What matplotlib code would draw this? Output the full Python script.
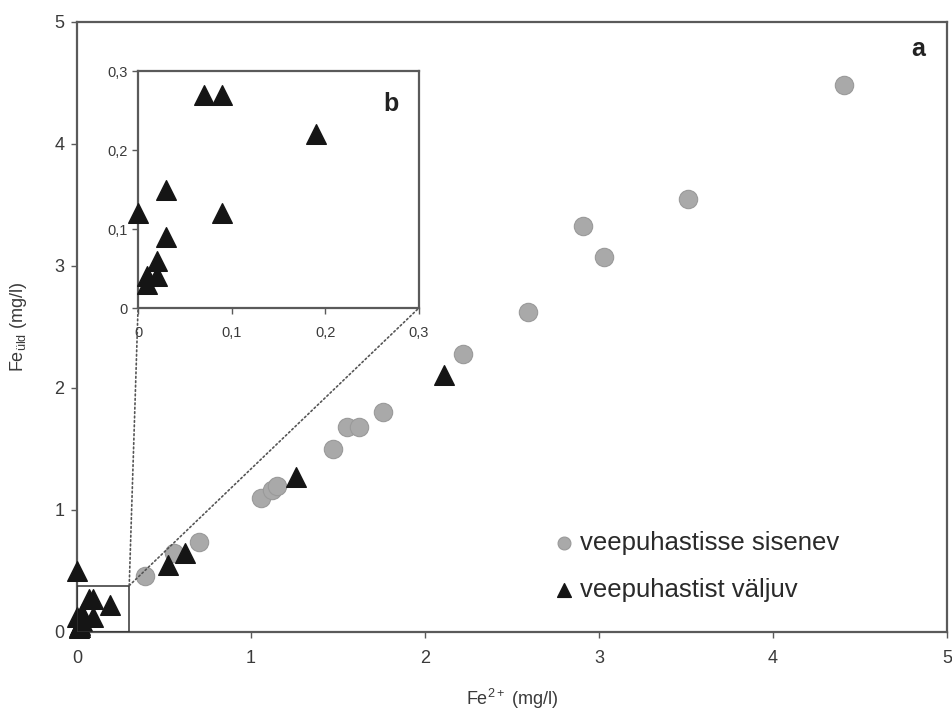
import matplotlib
matplotlib.use("Agg")
import matplotlib.pyplot as plt
from matplotlib.patches import Rectangle, ConnectionPatch

plt.rcParams["font.family"] = ["Liberation Sans", "DejaVu Sans"]
plt.rcParams["mathtext.default"] = "regular"

# inflow (gray circles)
in_fe2 = [0.39, 0.56, 0.70, 1.06, 1.12, 1.15, 1.47, 1.55, 1.62, 1.76, 2.22, 2.59, 2.91, 3.03, 3.51, 4.41]
in_fetot = [0.46, 0.65, 0.74, 1.10, 1.16, 1.20, 1.50, 1.68, 1.68, 1.80, 2.28, 2.62, 3.33, 3.07, 3.55, 4.48]

# outflow (black triangles)
out_fe2 = [0.0, 0.0, 0.01, 0.01, 0.02, 0.02, 0.03, 0.03, 0.07, 0.09, 0.09, 0.19,
           0.52, 0.62, 1.26, 2.11]
out_fetot = [0.5, 0.12, 0.03, 0.04, 0.04, 0.06, 0.09, 0.15, 0.27, 0.27, 0.12, 0.22,
             0.55, 0.65, 1.27, 2.11]

main_ticks = [0, 1, 2, 3, 4, 5]
inset_ticks = [0, 0.1, 0.2, 0.3]
inset_labels = ["0", "0,1", "0,2", "0,3"]

labels = ["veepuhastisse sisenev", "veepuhastist väljuv"]

spine_col = "#5a5a5a"
text_col = "#3a3a3a"
circ_face = "#a9a9a9"
circ_edge = "#9a9a9a"
tri_col = "#151515"

fig = plt.figure(figsize=(9.52, 7.22), dpi=100)
ax = fig.add_axes([0.0809, 0.1247, 0.914, 0.845])

ax.scatter(in_fe2, in_fetot, s=175, marker="o", facecolor=circ_face,
           edgecolor=circ_edge, linewidth=0.8, label=labels[0], zorder=3,
           clip_on=False)
ax.scatter(out_fe2, out_fetot, s=200, marker="^", color=tri_col,
           label=labels[1], zorder=4, clip_on=False)

ax.set_xlim(0, 5)
ax.set_ylim(0, 5)
ax.set_xticks(main_ticks)
ax.set_yticks(main_ticks)
ax.tick_params(direction="out", length=4, width=1, colors=spine_col,
               labelcolor=text_col, labelsize=13)
ax.tick_params(axis="x", pad=9)
ax.tick_params(axis="y", pad=5)
for sp in ax.spines.values():
    sp.set_color(spine_col)
    sp.set_linewidth(1.6)

ax.set_xlabel("Fe$^{2+}$ (mg/l)", fontsize=13, color=text_col, labelpad=14)
ax.set_ylabel("Fe$_{üld}$ (mg/l)", fontsize=13, color=text_col, labelpad=18)

ax.text(0.975, 0.955, "a", transform=ax.transAxes, fontsize=18,
        fontweight="bold", color="#222222", ha="right", va="center")

leg = ax.legend(loc="lower left", bbox_to_anchor=(0.537, 0.032), frameon=False,
                fontsize=18.5, markerscale=0.7, handlelength=0.7,
                handletextpad=0.3, labelspacing=0.9, borderaxespad=0)
for t in leg.get_texts():
    t.set_color("#2a2a2a")

# zoom rectangle in the main plot
ax.add_patch(Rectangle((0, 0), 0.3, 0.38, fill=False, edgecolor="#333333",
                       linewidth=1.1, zorder=5))

# inset
ins = fig.add_axes([0.145, 0.5734, 0.295, 0.328])
ins.scatter(out_fe2[:12], out_fetot[:12], s=200, marker="^", color=tri_col,
            zorder=4, clip_on=False)
ins.set_xlim(0, 0.3)
ins.set_ylim(0, 0.3)
ins.set_xticks(inset_ticks)
ins.set_xticklabels(inset_labels)
ins.set_yticks(inset_ticks)
ins.set_yticklabels(inset_labels)
ins.tick_params(direction="out", length=4, width=1, colors=spine_col,
                labelcolor=text_col, labelsize=10.5)
ins.tick_params(axis="x", pad=9)
for sp in ins.spines.values():
    sp.set_color(spine_col)
    sp.set_linewidth(1.6)
ins.text(0.9, 0.86, "b", transform=ins.transAxes, fontsize=18,
         fontweight="bold", color="#222222", ha="center", va="center")

for xy_ins in [(0, 0), (0.3, 0)]:
    con = ConnectionPatch(xyA=(0.3, 0.38), coordsA=ax.transData,
                          xyB=xy_ins, coordsB=ins.transData,
                          linestyle=":", color="#555555", linewidth=1.2)
    fig.add_artist(con)

fig.savefig("out.png", dpi=100)
